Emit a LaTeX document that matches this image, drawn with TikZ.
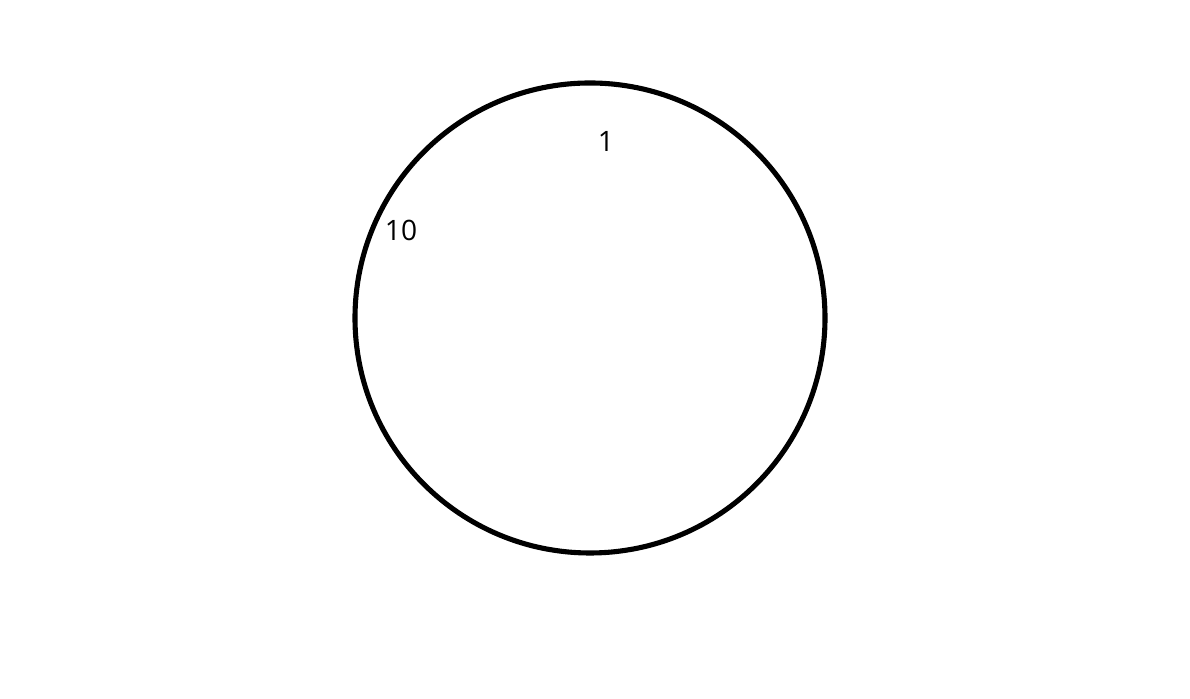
\documentclass[tikz,border=0pt]{standalone}
\usepackage{fontspec}
\setmainfont{Open Sans}
\usepackage{tikz}
\usetikzlibrary{positioning, calc}

\begin{document}
\begin{tikzpicture}[font=\fontsize{16}{19}\selectfont,
  ring/.style={circle, draw=black, line width=2.9pt, minimum size=9.4cm, inner sep=0pt},
  mark label/.style={text=black, inner sep=1pt}]
  % Page frame
  \useasboundingbox (0,0) rectangle (23.8,13.98);
  % Circle
  \node[ring] (dial) at (11.8,7.62) {};
  % Labels
  \node[mark label] (one) at (12.12,11.16) {1};
  \node[mark label] (ten) at (8.02,9.38) {10};
\end{tikzpicture}
\end{document}
